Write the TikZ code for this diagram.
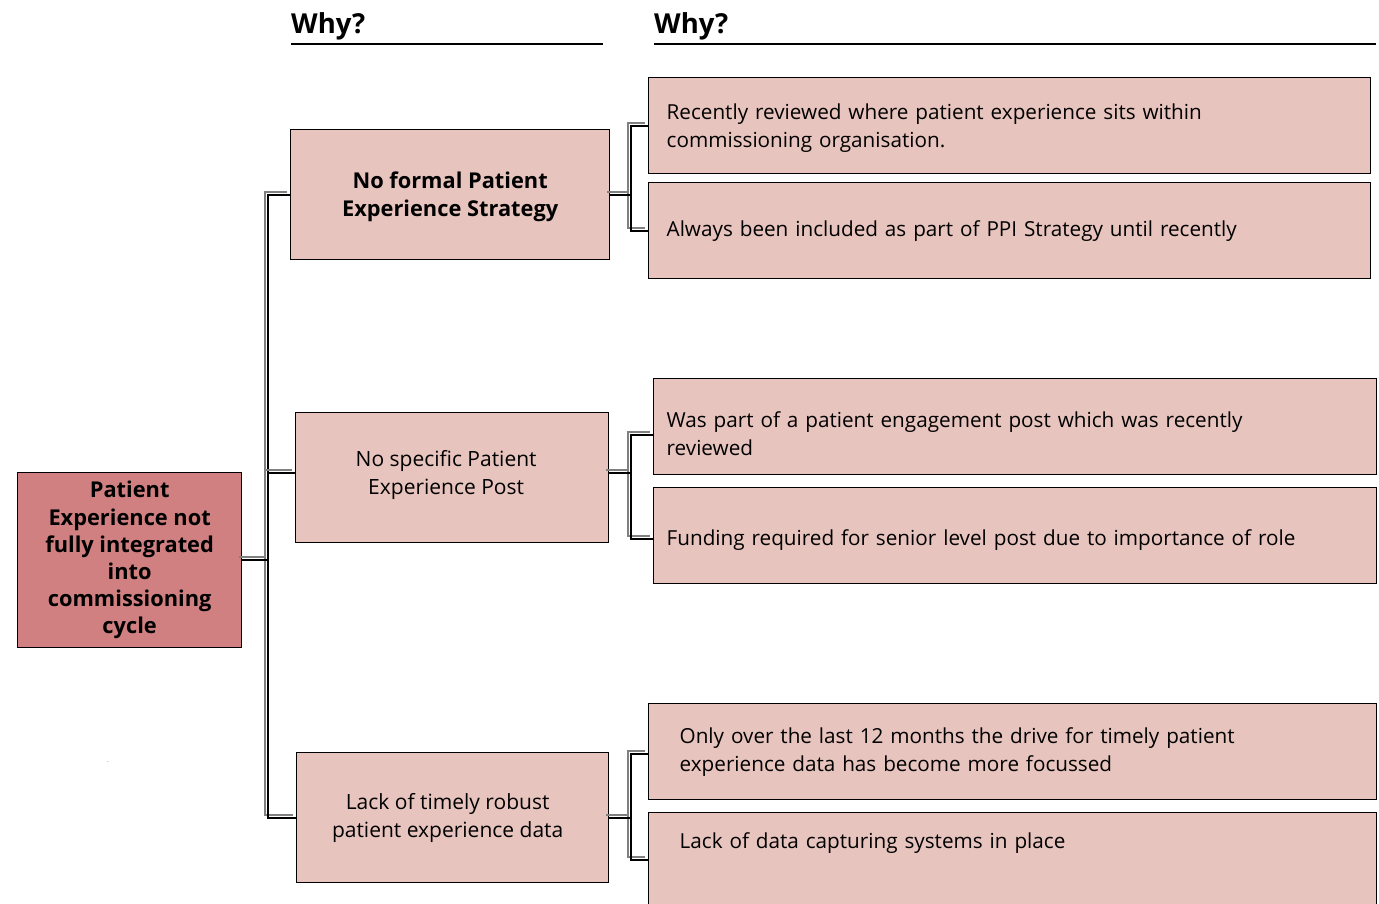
\documentclass[tikz,border=0pt]{standalone}
\usepackage{fontspec}
\setmainfont{Open Sans}
\definecolor{rootfill}{HTML}{D08080}
\definecolor{boxfill}{HTML}{E8C4BE}
\definecolor{shadowgray}{HTML}{808080}
\begin{document}
\begin{tikzpicture}[x=1pt,y=-1pt,
  box/.style={draw=black, line width=1.3pt, fill=boxfill, anchor=north west, inner sep=0pt},
  causebox/.style={box, minimum width=#1, minimum height=130pt, align=center,
    font=\fontsize{21}{28}\selectfont},
  reasonbox/.style={box, minimum width=#1, minimum height=96pt, align=left,
    font=\fontsize{20.7}{28}\selectfont},
  conn/.style={draw=black, line width=2.2pt,
    preaction={draw=shadowgray, line width=2.2pt, transform canvas={xshift=-3pt,yshift=3pt}}},
  head/.style={font=\bfseries\fontsize{27.5}{30}\selectfont, anchor=base west, inner sep=0pt}]
\useasboundingbox (0,0) rectangle (1379,904);

% column headings
\node[head] (w1) at (291,34) {Why?};
\node[head] (w2) at (654,34) {Why?};
\draw[line width=1.4pt] (291,44) coordinate (u1a) -- (603,44) coordinate (u1b);
\draw[line width=1.4pt] (654,44) coordinate (u2a) -- (1376,44) coordinate (u2b);

% problem statement
\node[box, fill=rootfill, minimum width=224pt, minimum height=175pt, align=center,
  font=\bfseries\fontsize{21.8}{27.2}\selectfont] (r) at (17,472)
  {Patient\\Experience not\\fully integrated\\into\\commissioning\\cycle};
\node[font=\tiny, inner sep=0pt] (dot) at (108,762) {.};

% first level causes
\node[causebox=319pt, font=\bfseries\fontsize{21.8}{28}\selectfont,
  text height=44pt, text depth=0pt] (a1) at (290,129)
  {No formal Patient\\Experience Strategy};
\node[causebox=313pt, text height=34pt, text depth=0pt] (a2) at (295,412)
  {No specific Patient\hspace*{12pt}\\Experience Post\hspace*{12pt}};
\node[causebox=312pt, text height=40pt, text depth=0pt] (a3) at (296,752)
  {Lack of timely robust\hspace*{10pt}\\patient experience data\hspace*{10pt}};

% second level reasons
\node[reasonbox=722pt, text width=686pt, inner xsep=18pt, text height=10pt, text depth=23pt] (b1) at (648,77)
  {Recently reviewed where patient experience sits within\\commissioning organisation.};
\node[reasonbox=722pt, text width=686pt, inner xsep=18pt] (b2) at (648,182)
  {Always been included as part of PPI Strategy until recently};
\node[reasonbox=723pt, text width=697pt, inner xsep=13pt, text height=24pt, text depth=22pt] (b3) at (653,378)
  {Was part of a patient engagement post which was recently\\reviewed};
\node[reasonbox=723pt, text width=697pt, inner xsep=13pt, text height=20pt, text depth=0pt] (b4) at (653,487)
  {Funding required for senior level post due to importance of role};
\node[reasonbox=728pt, text width=666pt, inner xsep=31pt] (b5) at (648,703)
  {Only over the last 12 months the drive for timely patient\\experience data has become more focussed};
\node[reasonbox=728pt, text width=666pt, inner xsep=31pt, minimum height=0pt,
  inner ysep=20pt, text height=16pt, text depth=60pt] (b6) at (648,812)
  {Lack of data capturing systems in place};

% connectors from the problem to its causes
\draw[conn] (r.east) -- ++(26,0) |- (a1.west);
\draw[conn] (r.east) -- ++(26,0) |- ([yshift=5pt]a2.west);
\draw[conn] (r.east) -- ++(26,0) |- (a3.west);

% connectors from each cause to its reasons
\draw[conn] (a1.east) -- ++(21,0) |- (b1.west);
\draw[conn] (a1.east) -- ++(21,0) |- (b2.west);
\draw[conn] ([yshift=5pt]a2.east) -- ++(22,0) |- ([yshift=-8pt]b3.west);
\draw[conn] ([yshift=5pt]a2.east) -- ++(22,0) |- ([yshift=-3pt]b4.west);
\draw[conn] (a3.east) -- ++(22,0) |- ([yshift=-2pt]b5.west);
\draw[conn] (a3.east) -- ++(22,0) |- ([yshift=-48pt]b6.north west);
\end{tikzpicture}
\end{document}
